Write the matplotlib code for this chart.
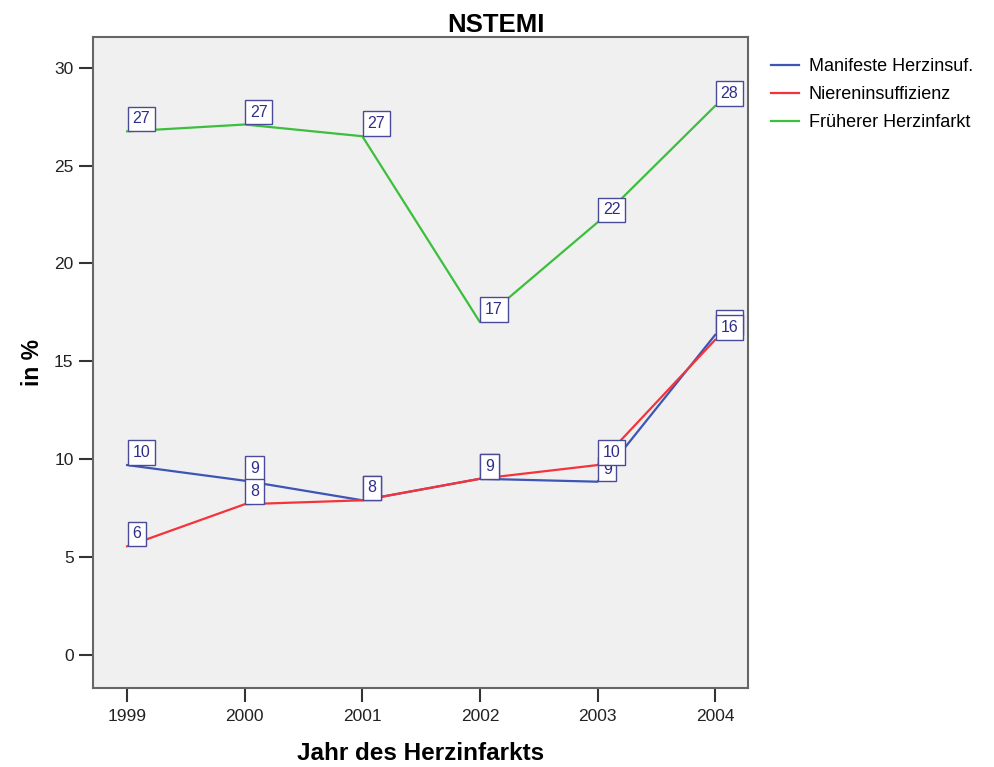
import matplotlib
matplotlib.use('Agg')
from matplotlib import pyplot as plt

plt.rcParams['font.family'] = ['Liberation Sans', 'DejaVu Sans']

years = [1999, 2000, 2001, 2002, 2003, 2004]
herzinsuf = [9.7, 8.9, 7.9, 9.0, 8.85, 16.35]
niere = [5.55, 7.7, 7.9, 9.0, 9.7, 16.1]
infarkt = [26.75, 27.1, 26.5, 17.0, 22.1, 28.05]
herzinsuf_labels = ["10", "9", "8", "9", "9", "16"]
niere_labels = ["6", "8", "8", "9", "10", "16"]
infarkt_labels = ["27", "27", "27", "17", "22", "28"]

series = [
    ("Manifeste Herzinsuf.", herzinsuf, herzinsuf_labels, "#3d55b5"),
    ("Niereninsuffizienz", niere, niere_labels, "#f5333a"),
    ("Früherer Herzinfarkt", infarkt, infarkt_labels, "#3cbf3c"),
]

fig = plt.figure(figsize=(9.94, 7.67), dpi=100)
ax = fig.add_axes([0.0936, 0.103, 0.659, 0.849])
ax.set_facecolor('#f0f0f0')

for name, vals, labels, col in series:
    ax.plot(years, vals, color=col, lw=1.6, label=name)

# value boxes, lower-left corner sits on the data point
for name, vals, labels, col in series:
    for x, y, t in zip(years, vals, labels):
        ax.annotate(t, (x, y), xytext=(3.8, 3.6), textcoords='offset points',
                    ha='left', va='bottom', fontsize=11.5, color='#2e2e8a',
                    bbox=dict(boxstyle='square,pad=0.3', fc='white',
                              ec='#4a4a9a', lw=1.0))

ax.set_xlim(1998.71, 2004.28)
ax.set_ylim(-1.69, 31.58)
ax.set_xticks(years)
ax.set_xticklabels([str(y) for y in years])
ax.set_yticks([0, 5, 10, 15, 20, 25, 30])
ax.tick_params(axis='both', length=10, width=1.5, color='#333333',
               labelsize=12.5, labelcolor='#222222')
ax.tick_params(axis='x', pad=5)
ax.tick_params(axis='y', pad=4)
for sp in ax.spines.values():
    sp.set_color('#666666')
    sp.set_linewidth(1.5)

# title is centred on the whole figure, not on the plot area
fig.text(0.4985, 0.968, "NSTEMI", fontsize=18.5, fontweight='bold',
         ha='center', va='center')
ax.set_xlabel("Jahr des Herzinfarkts", fontsize=17.5, fontweight='bold', labelpad=13)
ax.set_ylabel("in %", fontsize=16.5, fontweight='bold', labelpad=7)

ax.legend(loc='upper left', bbox_to_anchor=(1.01, 0.992), frameon=False,
          fontsize=13, handlelength=1.55, labelspacing=0.6, handletextpad=0.55)

plt.savefig("out.png", dpi=100, facecolor='white')
plt.close()
